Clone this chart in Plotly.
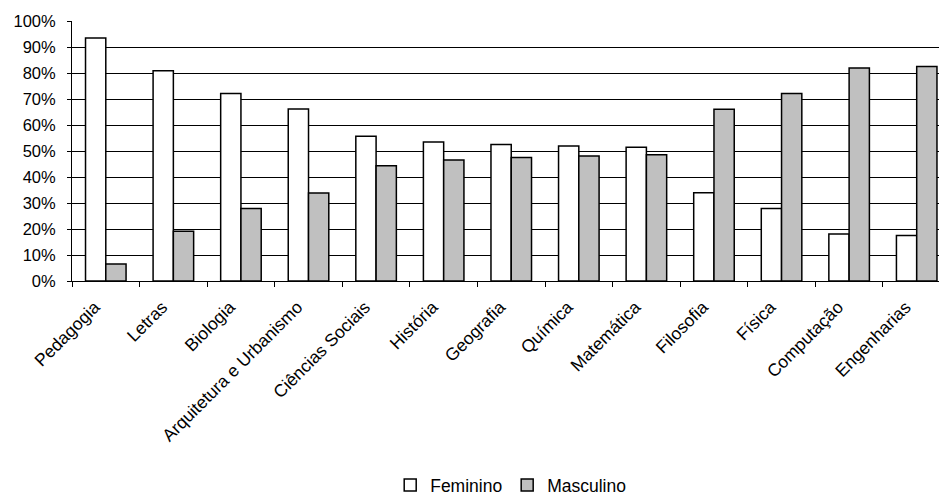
import plotly.graph_objects as go

# Share of students by sex in each undergraduate field
cursos = ["Pedagogia", "Letras", "Biologia", "Arquitetura e Urbanismo",
          "Ciências Sociais", "História", "Geografia", "Química",
          "Matemática", "Filosofia", "Física", "Computação", "Engenharias"]
feminino = [0.935, 0.809, 0.721, 0.662, 0.557, 0.535, 0.525, 0.519,
            0.514, 0.339, 0.279, 0.181, 0.175]
masculino = [0.065, 0.191, 0.279, 0.338, 0.443, 0.465, 0.475, 0.481,
             0.486, 0.661, 0.721, 0.819, 0.825]
y_ticks = [i / 10 for i in range(11)]

font_family = "Arial, Liberation Sans, sans-serif"

fig = go.Figure()
fig.add_trace(go.Bar(
    x=cursos, y=feminino, name="Feminino",
    marker=dict(color="#ffffff", line=dict(color="#000000", width=1.5)),
))
fig.add_trace(go.Bar(
    x=cursos, y=masculino, name="Masculino",
    marker=dict(color="#c0c0c0", line=dict(color="#000000", width=1.5)),
))

fig.update_layout(
    width=939, height=497,
    margin=dict(l=72, r=0, t=21, b=216, autoexpand=False),
    paper_bgcolor="#ffffff", plot_bgcolor="#ffffff",
    barmode="group", bargap=0.4, bargroupgap=0,
    font=dict(family=font_family, size=17.5, color="#000000"),
    showlegend=True,
    legend=dict(
        orientation="h", x=0.506, xanchor="center",
        y=-0.785, yanchor="middle",
        font=dict(size=17.5, color="#000000"), itemwidth=30,
        bgcolor="rgba(0,0,0,0)",
    ),
    xaxis=dict(
        type="category", range=[-0.5, 12.33],
        tickangle=-45, tickson="boundaries",
        ticks="outside", ticklen=5, tickcolor="#000000", tickwidth=1,
        showline=True, linecolor="#000000", linewidth=1,
        showgrid=False, tickfont=dict(size=17.5, color="#000000"),
        ticklabelshift=-11, ticklabelstandoff=8, automargin=False,
    ),
    yaxis=dict(
        range=[0, 1], tickvals=y_ticks, tickformat=".0%",
        ticks="outside", ticklen=4, tickcolor="#000000", tickwidth=1,
        showline=True, linecolor="#000000", linewidth=1,
        showgrid=True, gridcolor="#000000", gridwidth=1,
        zeroline=False, tickfont=dict(size=16.5, color="#000000"),
        ticklabelstandoff=8, automargin=False,
    ),
)

fig.write_html("out.html")
